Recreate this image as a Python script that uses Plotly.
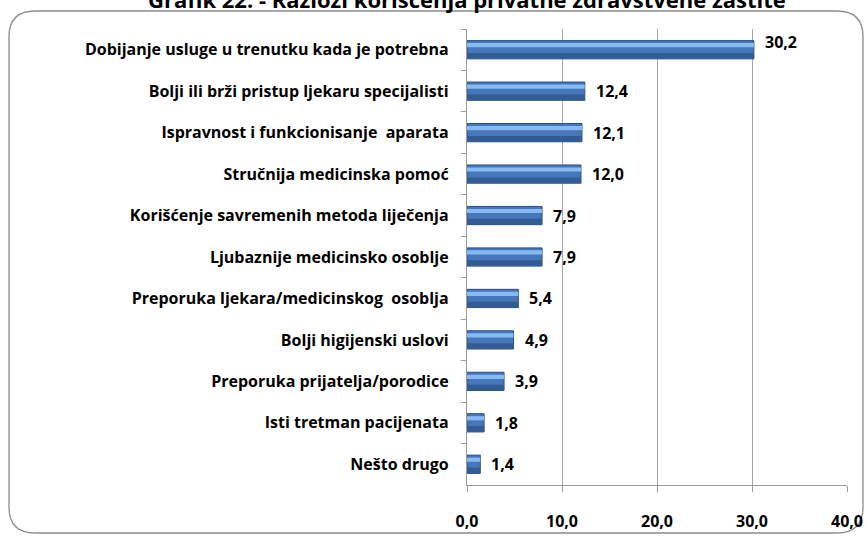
import plotly.graph_objects as go

categories = [
    "Dobijanje usluge u trenutku kada je potrebna",
    "Bolji ili brži pristup ljekaru specijalisti",
    "Ispravnost i funkcionisanje  aparata",
    "Stručnija medicinska pomoć",
    "Korišćenje savremenih metoda liječenja",
    "Ljubaznije medicinsko osoblje",
    "Preporuka ljekara/medicinskog  osoblja",
    "Bolji higijenski uslovi",
    "Preporuka prijatelja/porodice",
    "Isti tretman pacijenata",
    "Nešto drugo",
]
values = [30.2, 12.4, 12.1, 12.0, 7.9, 7.9, 5.4, 4.9, 3.9, 1.8, 1.4]
x_ticks = [0, 10, 20, 30, 40]
title_text = "Grafik 22: - Razlozi korišćenja privatne zdravstvene zaštite"

W, H = 868, 536
L, R, T, B = 467, 21, 29, 51
PW, PH = W - L - R, H - T - B

def px(x):
    return (x - L) / PW

def py(y):
    return (H - B - y) / PH

FONT = "Open Sans"

fig = go.Figure()
# main bar body
fig.add_trace(go.Bar(
    x=values, y=categories, orientation="h",
    width=0.44, offset=-0.22,
    marker=dict(color="#4677BB", line=dict(color="#2C4F82", width=1)),
    hoverinfo="skip", showlegend=False,
))
# darker lower band
fig.add_trace(go.Bar(
    x=values, y=categories, orientation="h",
    width=0.13, offset=0.08,
    marker=dict(color="#335B94", line=dict(width=0)),
    hoverinfo="skip", showlegend=False,
))
# light highlight band
fig.add_trace(go.Bar(
    x=values, y=categories, orientation="h",
    width=0.10, offset=-0.16,
    marker=dict(color="#86BAF2", line=dict(width=0)),
    hoverinfo="skip", showlegend=False,
))

annotations = []
for i, (c, v) in enumerate(zip(categories, values)):
    annotations.append(dict(
        x=v, y=c, xref="x", yref="y",
        text=f"{v:.1f}".replace(".", ","),
        showarrow=False, xanchor="left", yanchor="middle",
        xshift=9, yshift=8 if i == 0 else 0,
        font=dict(family=FONT, size=16, color="#000000", weight="bold"),
    ))

annotations.append(dict(
    x=px(467), y=py(-1), xref="paper", yref="paper",
    text=title_text, showarrow=False, xanchor="center", yanchor="middle",
    font=dict(family=FONT, size=22, color="#000000", weight="bold"),
))

# rounded frame
x0, y0, x1, y1, r = 9, 11, 863, 533, 26
path = (
    f"M {px(x0 + r)},{py(y0)} L {px(x1 - r)},{py(y0)} "
    f"Q {px(x1)},{py(y0)} {px(x1)},{py(y0 + r)} "
    f"L {px(x1)},{py(y1 - r)} Q {px(x1)},{py(y1)} {px(x1 - r)},{py(y1)} "
    f"L {px(x0 + r)},{py(y1)} Q {px(x0)},{py(y1)} {px(x0)},{py(y1 - r)} "
    f"L {px(x0)},{py(y0 + r)} Q {px(x0)},{py(y0)} {px(x0 + r)},{py(y0)} Z"
)

fig.update_layout(
    width=W, height=H,
    margin=dict(l=L, r=R, t=T, b=B, pad=0),
    paper_bgcolor="white", plot_bgcolor="white",
    barmode="overlay",
    separators=",.",
    annotations=annotations,
    shapes=[dict(type="path", path=path, xref="paper", yref="paper",
                 line=dict(color="#8C8C8C", width=1.3), layer="below")],
    xaxis=dict(
        range=[0, 40], tickvals=x_ticks, tickformat=".1f",
        showgrid=True, gridcolor="#A6A6A6", gridwidth=1.3,
        showline=True, linecolor="#9A9A9A", linewidth=1.3,
        ticks="outside", ticklen=6, tickcolor="#9A9A9A",
        tickfont=dict(family=FONT, size=16, color="#000000", weight="bold"),
        ticklabelstandoff=16, automargin=False,
        zeroline=False, fixedrange=True,
    ),
    yaxis=dict(
        autorange="reversed", type="category",
        showline=True, linecolor="#9A9A9A", linewidth=1.3,
        ticks="outside", ticklen=5, tickcolor="#9A9A9A", tickson="boundaries",
        tickfont=dict(family=FONT, size=16, color="#000000", weight="bold"),
        ticklabelstandoff=14, automargin=False,
        showgrid=False, fixedrange=True,
    ),
)

fig.write_html("out.html", config={"displayModeBar": False},
               post_script="document.body.style.margin='0';")
